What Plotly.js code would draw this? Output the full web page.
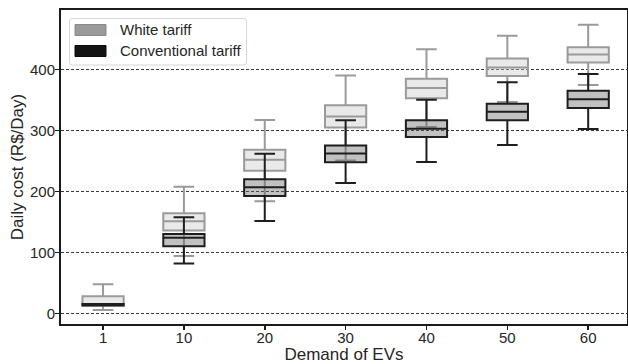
<!DOCTYPE html>
<html>
<head>
<meta charset="utf-8">
<script src="https://cdn.plot.ly/plotly-3.0.1.min.js"></script>
<style>
  html, body { margin: 0; padding: 0; background: #ffffff; }
  #chart { width: 628px; height: 364px; }
</style>
</head>
<body>
<div id="chart"></div>
<script>
// Demand levels (number of EVs) on the x axis
const demand = ['1', '10', '20', '30', '40', '50', '60'];

// White tariff: box statistics of daily cost (R$/Day)
const whiteLower  = [5.4, 94, 184, 251, 306, 347, 375];
const whiteQ1     = [13, 136, 234, 305, 353, 389.5, 412];
const whiteMedian = [14.5, 151, 252, 323, 370, 403.6, 425];
const whiteQ3     = [28, 164.5, 268.5, 341.8, 385.3, 418.2, 437];
const whiteUpper  = [47.6, 208, 317.5, 390.5, 433.5, 455.8, 473.8];

// Conventional tariff: box statistics of daily cost (R$/Day)
const convLower  = [12.8, 82, 151.7, 214, 248.3, 276.3, 302.6];
const convQ1     = [12.8, 110, 192.8, 248, 289.7, 316.8, 337.1];
const convMedian = [14, 124, 207, 262.3, 303, 330.8, 351.3];
const convQ3     = [15.2, 130.4, 220, 275.7, 317.1, 344.2, 365.3];
const convUpper  = [15.2, 157.8, 262, 317, 350.7, 379.3, 392.8];

const seriesNames = ['White tariff', 'Conventional tariff'];
const yTicks = [0, 100, 200, 300, 400];

const FONT = '"Liberation Sans", Arial, sans-serif';
const TEXT = '#262626';

function boxTrace(name, lo, q1, med, q3, hi, lineColor, fillColor) {
  return {
    type: 'box',
    name: name,
    x: demand,
    lowerfence: lo,
    q1: q1,
    median: med,
    q3: q3,
    upperfence: hi,
    boxpoints: false,
    width: 0.51,
    whiskerwidth: 0.5,
    line: { color: lineColor, width: 2 },
    fillcolor: fillColor,
    showlegend: false,
    hoverinfo: 'skip'
  };
}

const traces = [
  boxTrace(seriesNames[0], whiteLower, whiteQ1, whiteMedian, whiteQ3, whiteUpper,
           '#9a9a9a', 'rgba(200,200,200,0.4)'),
  boxTrace(seriesNames[1], convLower, convQ1, convMedian, convQ3, convUpper,
           '#1e1e1e', 'rgba(100,100,100,0.4)')
];

// Plot-area geometry used to place the legend in paper coordinates
const PW = 566, PH = 314, PL = 61, PT = 10;
const px = v => (v - PL) / PW;
const py = v => (PT + PH - v) / PH;

function roundedRect(x0, y0, x1, y1, r) {
  const rx = r / PW, ry = r / PH;
  const X0 = px(x0), X1 = px(x1), Y0 = py(y0), Y1 = py(y1);
  return 'M' + (X0 + rx) + ',' + Y0 +
    ' L' + (X1 - rx) + ',' + Y0 + ' Q' + X1 + ',' + Y0 + ' ' + X1 + ',' + (Y0 - ry) +
    ' L' + X1 + ',' + (Y1 + ry) + ' Q' + X1 + ',' + Y1 + ' ' + (X1 - rx) + ',' + Y1 +
    ' L' + (X0 + rx) + ',' + Y1 + ' Q' + X0 + ',' + Y1 + ' ' + X0 + ',' + (Y1 + ry) +
    ' L' + X0 + ',' + (Y0 - ry) + ' Q' + X0 + ',' + Y0 + ' ' + (X0 + rx) + ',' + Y0 + ' Z';
}

const legendPatchColors = ['#9a9a9a', '#141414'];
const legendRows = [30, 51];

const shapes = [
  {
    type: 'path', xref: 'paper', yref: 'paper',
    path: roundedRect(69.5, 18.5, 246.5, 65, 3),
    fillcolor: 'rgba(255,255,255,0.85)',
    line: { color: '#d6d6d6', width: 1 }
  }
];
const annotations = [];
legendRows.forEach((cy, i) => {
  shapes.push({
    type: 'rect', xref: 'paper', yref: 'paper',
    x0: px(75), x1: px(106), y0: py(cy - 5.5), y1: py(cy + 5.5),
    fillcolor: legendPatchColors[i],
    line: { color: i === 0 ? '#8a8a8a' : '#0c0c0c', width: 1 }
  });
  annotations.push({
    xref: 'paper', yref: 'paper',
    x: px(118), y: py(cy),
    xanchor: 'left', yanchor: 'middle',
    text: seriesNames[i], showarrow: false,
    font: { family: FONT, size: 15, color: TEXT }
  });
});

const layout = {
  width: 628,
  height: 364,
  margin: { l: PL, r: 1, t: PT, b: 40, pad: 0 },
  paper_bgcolor: '#ffffff',
  plot_bgcolor: '#ffffff',
  boxmode: 'overlay',
  showlegend: false,
  font: { family: FONT, size: 15, color: TEXT },
  xaxis: {
    type: 'category',
    categoryorder: 'array',
    categoryarray: demand,
    range: [-0.52, 6.48],
    showgrid: false,
    zeroline: false,
    showline: true,
    mirror: true,
    linecolor: '#1a1a1a',
    linewidth: 2,
    ticks: 'outside',
    ticklen: 4,
    tickwidth: 1.5,
    tickcolor: '#1a1a1a',
    ticklabelstandoff: -5,
    tickfont: { family: FONT, size: 15, color: TEXT },
    title: { text: 'Demand of EVs', font: { family: FONT, size: 17, color: TEXT }, standoff: 2 }
  },
  yaxis: {
    range: [-17.5, 498],
    tickvals: yTicks,
    ticktext: yTicks.map(String),
    showgrid: true,
    gridcolor: '#3a3a3a',
    gridwidth: 1,
    griddash: '3px,2px',
    zeroline: false,
    showline: true,
    mirror: true,
    linecolor: '#1a1a1a',
    linewidth: 2,
    ticks: 'outside',
    ticklen: 4,
    tickwidth: 1.5,
    tickcolor: '#1a1a1a',
    ticklabelstandoff: -3,
    tickfont: { family: FONT, size: 15, color: TEXT },
    title: { text: 'Daily cost (R$/Day)', font: { family: FONT, size: 17, color: TEXT }, standoff: 2 }
  },
  shapes: shapes,
  annotations: annotations
};

Plotly.newPlot('chart', traces, layout, { displayModeBar: false, staticPlot: true });
</script>
</body>
</html>
